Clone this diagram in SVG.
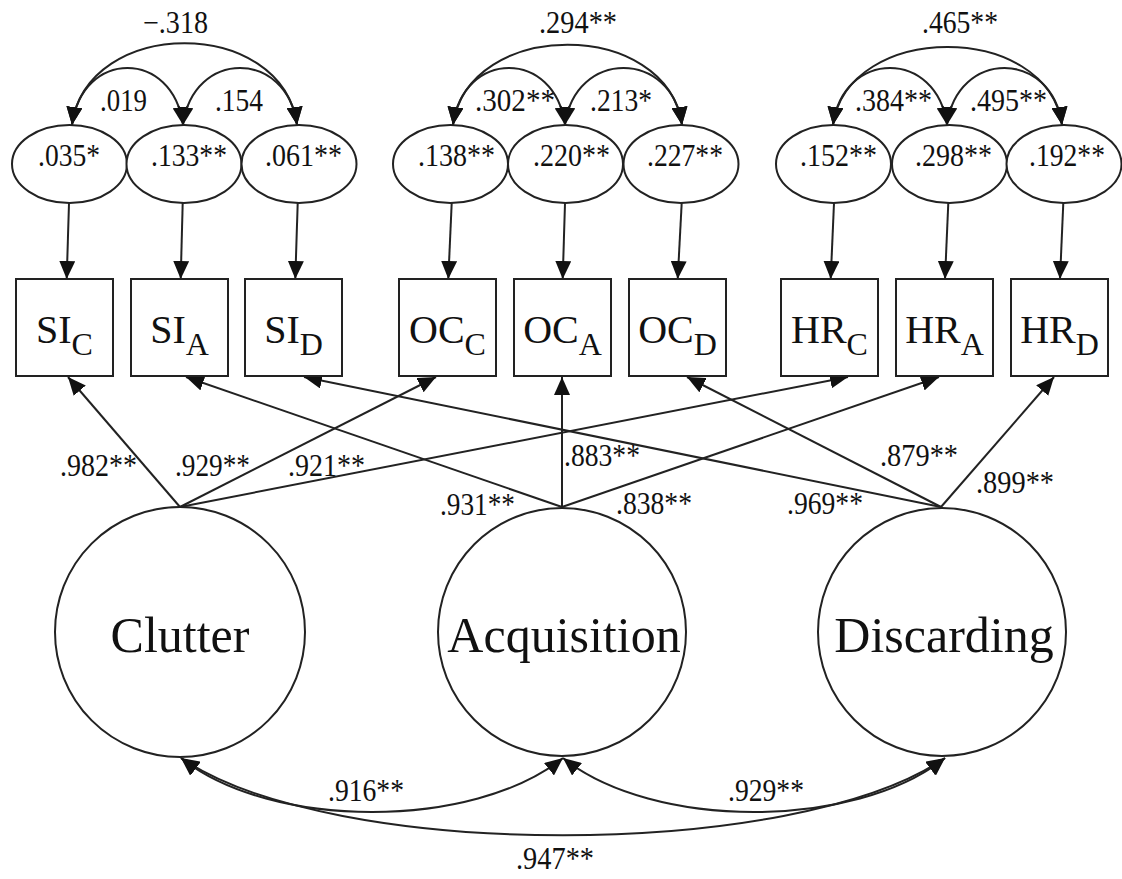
<svg xmlns="http://www.w3.org/2000/svg" width="1122" height="879" viewBox="0 0 1122 879">
<style>
.n{fill:#fff;stroke:#222;stroke-width:2}
.c{fill:none;stroke:#222;stroke-width:2}
.t{font-family:"Liberation Serif","Times New Roman",serif;fill:#111}
.s{font-size:31px}
.b{font-size:40px;text-anchor:middle}
.l{font-size:50px;text-anchor:middle}
.sub{font-size:32px}
</style>
<defs>
<marker id="ah" viewBox="0 0 18 16" refX="18" refY="8" markerWidth="18" markerHeight="16" markerUnits="userSpaceOnUse" orient="auto-start-reverse"><path d="M0,0L18,8L0,16z" fill="#111"/></marker>
</defs>
<rect width="1122" height="879" fill="#fff"/>

<g id="connectors" class="c">
<g id="covariances-top">
<path d="M72,125 C87,16 282,16 297,125" marker-start="url(#ah)" marker-end="url(#ah)"/>
<path d="M72,125 C82,49 173,49 183,125" marker-start="url(#ah)" marker-end="url(#ah)"/>
<path d="M183,125 C193,49 287,49 297,125" marker-start="url(#ah)" marker-end="url(#ah)"/>
<path d="M453,125 C468,18 667,18 682,125" marker-start="url(#ah)" marker-end="url(#ah)"/>
<path d="M453,125 C463,49 555,49 565,125" marker-start="url(#ah)" marker-end="url(#ah)"/>
<path d="M565,125 C575,49 672,49 682,125" marker-start="url(#ah)" marker-end="url(#ah)"/>
<path d="M833,125 C848,21 1047,21 1062,125" marker-start="url(#ah)" marker-end="url(#ah)"/>
<path d="M833,125 C843,49 937,49 947,125" marker-start="url(#ah)" marker-end="url(#ah)"/>
<path d="M947,125 C957,49 1052,49 1062,125" marker-start="url(#ah)" marker-end="url(#ah)"/>
</g>
<g id="error-paths">
<line x1="69" y1="203" x2="66.7" y2="279" marker-end="url(#ah)"/>
<line x1="182.7" y1="203" x2="180.7" y2="279" marker-end="url(#ah)"/>
<line x1="297.7" y1="203" x2="295.3" y2="279" marker-end="url(#ah)"/>
<line x1="451.7" y1="203" x2="448.3" y2="279" marker-end="url(#ah)"/>
<line x1="565" y1="203" x2="562.7" y2="279" marker-end="url(#ah)"/>
<line x1="681.7" y1="203" x2="677.7" y2="279" marker-end="url(#ah)"/>
<line x1="834" y1="203" x2="830.7" y2="279" marker-end="url(#ah)"/>
<line x1="948.3" y1="203" x2="945" y2="279" marker-end="url(#ah)"/>
<line x1="1063.3" y1="203" x2="1060" y2="279" marker-end="url(#ah)"/>
</g>
<g id="loadings">
<line x1="180" y1="507" x2="68" y2="377" marker-end="url(#ah)"/>
<line x1="180" y1="507" x2="436" y2="377" marker-end="url(#ah)"/>
<line x1="180" y1="507" x2="848" y2="377" marker-end="url(#ah)"/>
<line x1="562" y1="507" x2="186" y2="377" marker-end="url(#ah)"/>
<line x1="562" y1="507" x2="562" y2="377" marker-end="url(#ah)"/>
<line x1="562" y1="507" x2="939" y2="377" marker-end="url(#ah)"/>
<line x1="941" y1="507" x2="304" y2="377" marker-end="url(#ah)"/>
<line x1="941" y1="507" x2="687" y2="377" marker-end="url(#ah)"/>
<line x1="941" y1="507" x2="1054" y2="377" marker-end="url(#ah)"/>
</g>
<g id="covariances-bottom">
<path d="M181,758 C271,830 473,830 563,758" marker-start="url(#ah)" marker-end="url(#ah)"/>
<path d="M563,758 C653,830 855,830 945,758" marker-start="url(#ah)" marker-end="url(#ah)"/>
<path d="M181,758 C331,861 795,861 945,758" marker-start="url(#ah)" marker-end="url(#ah)"/>
</g>
</g>

<g id="e1"><ellipse class="n" cx="69.5" cy="164" rx="57.5" ry="39"/><text class="t s" x="38" y="166" textLength="62" lengthAdjust="spacingAndGlyphs">.035*</text></g>
<g id="e2"><ellipse class="n" cx="184" cy="164" rx="57.5" ry="39"/><text class="t s" x="151" y="166" textLength="76" lengthAdjust="spacingAndGlyphs">.133**</text></g>
<g id="e3"><ellipse class="n" cx="299" cy="164" rx="57.5" ry="39"/><text class="t s" x="265" y="166" textLength="77" lengthAdjust="spacingAndGlyphs">.061**</text></g>
<g id="e4"><ellipse class="n" cx="450.5" cy="164" rx="57.5" ry="39"/><text class="t s" x="418" y="166" textLength="77" lengthAdjust="spacingAndGlyphs">.138**</text></g>
<g id="e5"><ellipse class="n" cx="565.5" cy="164" rx="57.5" ry="39"/><text class="t s" x="533" y="166" textLength="77" lengthAdjust="spacingAndGlyphs">.220**</text></g>
<g id="e6"><ellipse class="n" cx="681" cy="164" rx="57.5" ry="39"/><text class="t s" x="647" y="166" textLength="76" lengthAdjust="spacingAndGlyphs">.227**</text></g>
<g id="e7"><ellipse class="n" cx="833.5" cy="164" rx="57.5" ry="39"/><text class="t s" x="800" y="166" textLength="77" lengthAdjust="spacingAndGlyphs">.152**</text></g>
<g id="e8"><ellipse class="n" cx="949.5" cy="164" rx="57.5" ry="39"/><text class="t s" x="915" y="166" textLength="77" lengthAdjust="spacingAndGlyphs">.298**</text></g>
<g id="e9"><ellipse class="n" cx="1064" cy="164" rx="57.5" ry="39"/><text class="t s" x="1029" y="166" textLength="76" lengthAdjust="spacingAndGlyphs">.192**</text></g>

<g id="SI_C"><rect class="n" x="16" y="279" width="97" height="97"/><text class="t b" x="64.5" y="343">SI<tspan class="sub" dy="12">C</tspan></text></g>
<g id="SI_A"><rect class="n" x="131" y="279" width="97" height="97"/><text class="t b" x="179.5" y="343">SI<tspan class="sub" dy="12">A</tspan></text></g>
<g id="SI_D"><rect class="n" x="245" y="279" width="97" height="97"/><text class="t b" x="293.5" y="343">SI<tspan class="sub" dy="12">D</tspan></text></g>
<g id="OC_C"><rect class="n" x="399" y="279" width="97" height="97"/><text class="t b" x="447.5" y="343">OC<tspan class="sub" dy="12">C</tspan></text></g>
<g id="OC_A"><rect class="n" x="514" y="279" width="97" height="97"/><text class="t b" x="562.5" y="343">OC<tspan class="sub" dy="12">A</tspan></text></g>
<g id="OC_D"><rect class="n" x="629" y="279" width="97" height="97"/><text class="t b" x="677.5" y="343">OC<tspan class="sub" dy="12">D</tspan></text></g>
<g id="HR_C"><rect class="n" x="781" y="279" width="97" height="97"/><text class="t b" x="829.5" y="343">HR<tspan class="sub" dy="12">C</tspan></text></g>
<g id="HR_A"><rect class="n" x="896" y="279" width="97" height="97"/><text class="t b" x="944.5" y="343">HR<tspan class="sub" dy="12">A</tspan></text></g>
<g id="HR_D"><rect class="n" x="1011" y="279" width="97" height="97"/><text class="t b" x="1059.5" y="343">HR<tspan class="sub" dy="12">D</tspan></text></g>

<g id="Clutter"><circle class="n" cx="180" cy="632" r="125"/><text class="t l" x="180" y="652">Clutter</text></g>
<g id="Acquisition"><circle class="n" cx="562" cy="632" r="124"/><text class="t l" x="564" y="652">Acquisition</text></g>
<g id="Discarding"><circle class="n" cx="942" cy="632" r="124"/><text class="t l" x="944" y="652">Discarding</text></g>

<g id="labels" class="t s">
<text x="143" y="33" textLength="65" lengthAdjust="spacingAndGlyphs">−.318</text>
<text x="100" y="111" textLength="47" lengthAdjust="spacingAndGlyphs">.019</text>
<text x="215" y="111" textLength="48" lengthAdjust="spacingAndGlyphs">.154</text>
<text x="539" y="33" textLength="78" lengthAdjust="spacingAndGlyphs">.294**</text>
<text x="475" y="111" textLength="80" lengthAdjust="spacingAndGlyphs">.302**</text>
<text x="590" y="111" textLength="62" lengthAdjust="spacingAndGlyphs">.213*</text>
<text x="922" y="33" textLength="76" lengthAdjust="spacingAndGlyphs">.465**</text>
<text x="855" y="111" textLength="77" lengthAdjust="spacingAndGlyphs">.384**</text>
<text x="970" y="111" textLength="77" lengthAdjust="spacingAndGlyphs">.495**</text>
<text x="60" y="476" textLength="77" lengthAdjust="spacingAndGlyphs">.982**</text>
<text x="175" y="476" textLength="75" lengthAdjust="spacingAndGlyphs">.929**</text>
<text x="288" y="476" textLength="77" lengthAdjust="spacingAndGlyphs">.921**</text>
<text x="440" y="515" textLength="75" lengthAdjust="spacingAndGlyphs">.931**</text>
<text x="564" y="466" textLength="76" lengthAdjust="spacingAndGlyphs">.883**</text>
<text x="616" y="514" textLength="76" lengthAdjust="spacingAndGlyphs">.838**</text>
<text x="787" y="514" textLength="76" lengthAdjust="spacingAndGlyphs">.969**</text>
<text x="880" y="466" textLength="78" lengthAdjust="spacingAndGlyphs">.879**</text>
<text x="976" y="493" textLength="78" lengthAdjust="spacingAndGlyphs">.899**</text>
<text x="328" y="801" textLength="76" lengthAdjust="spacingAndGlyphs">.916**</text>
<text x="728" y="801" textLength="76" lengthAdjust="spacingAndGlyphs">.929**</text>
<text x="516" y="869" textLength="78" lengthAdjust="spacingAndGlyphs">.947**</text>
</g>
</svg>
